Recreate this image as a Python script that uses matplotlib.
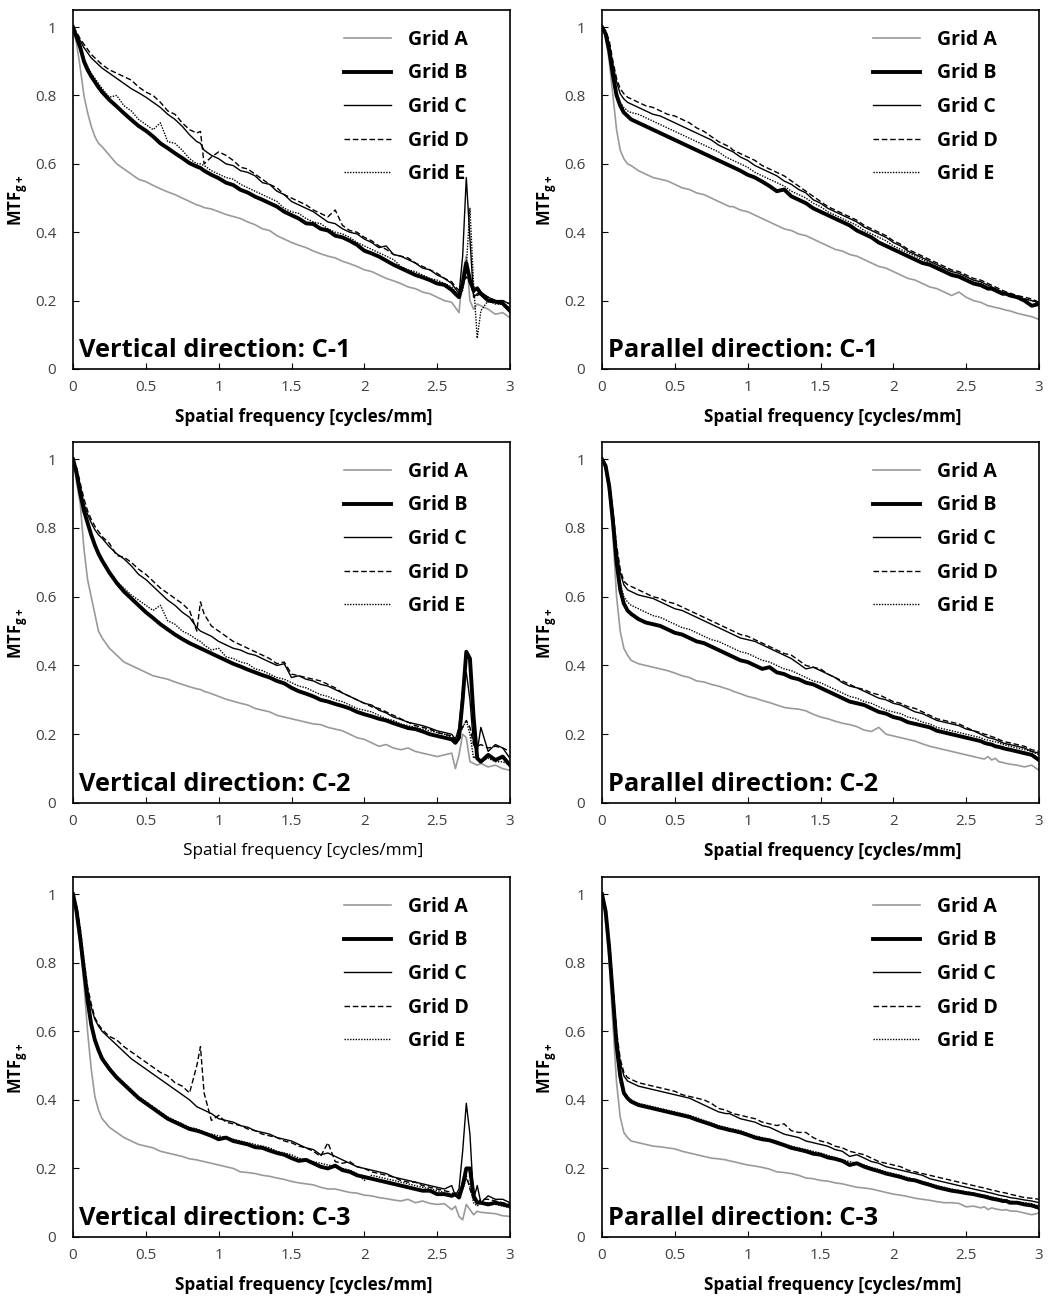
import matplotlib
matplotlib.use("Agg")
import matplotlib.pyplot as plt

plt.rcParams['font.family'] = ['Open Sans', 'DejaVu Sans']
plt.rcParams['mathtext.fontset'] = 'custom'
plt.rcParams['mathtext.rm'] = 'Open Sans'
plt.rcParams['mathtext.bf'] = 'Open Sans:bold'

# spatial frequency samples [cycles/mm]
FREQ = [0.0, 0.025, 0.05, 0.075, 0.1, 0.125, 0.15, 0.175,
        0.2, 0.25, 0.3, 0.35, 0.4, 0.45, 0.5, 0.55, 0.6, 0.65,
        0.7, 0.75, 0.8, 0.85, 0.875, 0.9, 0.95, 1.0,
        1.05, 1.1, 1.15, 1.2, 1.25, 1.3, 1.35, 1.4, 1.45, 1.5,
        1.55, 1.6, 1.65, 1.7, 1.75, 1.8, 1.85, 1.9, 1.95, 2.0,
        2.05, 2.1, 2.15, 2.2, 2.25, 2.3, 2.35, 2.4, 2.45, 2.5,
        2.55, 2.6, 2.625, 2.65, 2.675, 2.7, 2.725, 2.75, 2.775, 2.8,
        2.85, 2.9, 2.95, 3.0]

# ---- Vertical direction, C-1 ----
V1_A = [1.0, 0.95, 0.88, 0.80, 0.75, 0.71, 0.68, 0.66,
        0.65, 0.625, 0.60, 0.585, 0.57, 0.555, 0.548, 0.537, 0.527, 0.518,
        0.51, 0.50, 0.49, 0.48, 0.477, 0.472, 0.468, 0.46,
        0.452, 0.446, 0.44, 0.43, 0.422, 0.41, 0.405, 0.39, 0.38, 0.37,
        0.362, 0.355, 0.345, 0.337, 0.33, 0.325, 0.315, 0.308, 0.30, 0.29,
        0.285, 0.275, 0.265, 0.258, 0.25, 0.24, 0.235, 0.225, 0.22, 0.21,
        0.20, 0.195, 0.18, 0.165, 0.28, 0.33, 0.20, 0.175, 0.19, 0.185,
        0.175, 0.16, 0.165, 0.15]
V1_B = [1.0, 0.97, 0.94, 0.90, 0.875, 0.856, 0.84, 0.824,
        0.81, 0.787, 0.768, 0.748, 0.729, 0.711, 0.697, 0.68, 0.66, 0.646,
        0.631, 0.617, 0.602, 0.592, 0.588, 0.58, 0.568, 0.558,
        0.545, 0.538, 0.524, 0.516, 0.504, 0.495, 0.485, 0.475, 0.46, 0.45,
        0.44, 0.426, 0.424, 0.41, 0.405, 0.39, 0.385, 0.375, 0.363, 0.346,
        0.338, 0.329, 0.317, 0.305, 0.295, 0.285, 0.275, 0.268, 0.26, 0.25,
        0.246, 0.231, 0.22, 0.21, 0.25, 0.31, 0.26, 0.23, 0.236, 0.22,
        0.20, 0.197, 0.192, 0.17]
V1_C = [1.0, 0.98, 0.96, 0.94, 0.925, 0.91, 0.90, 0.89,
        0.88, 0.865, 0.85, 0.835, 0.82, 0.808, 0.795, 0.78, 0.765, 0.745,
        0.73, 0.71, 0.685, 0.665, 0.66, 0.64, 0.625, 0.615,
        0.60, 0.595, 0.58, 0.575, 0.565, 0.545, 0.54, 0.52, 0.51, 0.49,
        0.48, 0.47, 0.46, 0.445, 0.43, 0.425, 0.41, 0.40, 0.395, 0.38,
        0.37, 0.355, 0.36, 0.335, 0.33, 0.32, 0.31, 0.295, 0.29, 0.275,
        0.265, 0.25, 0.235, 0.22, 0.33, 0.56, 0.38, 0.21, 0.22, 0.225,
        0.21, 0.20, 0.20, 0.19]
V1_D = [1.0, 0.985, 0.965, 0.95, 0.935, 0.92, 0.91, 0.90,
        0.89, 0.875, 0.865, 0.855, 0.845, 0.825, 0.81, 0.80, 0.78, 0.755,
        0.745, 0.72, 0.70, 0.69, 0.695, 0.60, 0.62, 0.635,
        0.625, 0.61, 0.59, 0.585, 0.57, 0.555, 0.54, 0.53, 0.51, 0.50,
        0.49, 0.48, 0.465, 0.455, 0.445, 0.465, 0.42, 0.405, 0.40, 0.385,
        0.375, 0.36, 0.35, 0.335, 0.33, 0.325, 0.31, 0.30, 0.29, 0.28,
        0.265, 0.255, 0.24, 0.23, 0.25, 0.27, 0.25, 0.22, 0.215, 0.22,
        0.21, 0.20, 0.20, 0.19]
V1_E = [1.0, 0.975, 0.95, 0.91, 0.885, 0.865, 0.85, 0.835,
        0.82, 0.795, 0.80, 0.77, 0.755, 0.73, 0.715, 0.70, 0.72, 0.665,
        0.66, 0.64, 0.615, 0.60, 0.60, 0.595, 0.58, 0.57,
        0.56, 0.555, 0.54, 0.53, 0.52, 0.51, 0.50, 0.49, 0.47, 0.46,
        0.455, 0.44, 0.43, 0.425, 0.41, 0.40, 0.395, 0.385, 0.37, 0.36,
        0.35, 0.34, 0.33, 0.32, 0.30, 0.29, 0.285, 0.275, 0.265, 0.26,
        0.25, 0.24, 0.225, 0.21, 0.23, 0.30, 0.47, 0.25, 0.09, 0.17,
        0.20, 0.19, 0.19, 0.18]

# ---- Parallel direction, C-1 ----
P1_A = [1.0, 0.97, 0.90, 0.80, 0.70, 0.64, 0.615, 0.60,
        0.595, 0.58, 0.57, 0.56, 0.555, 0.55, 0.54, 0.53, 0.525, 0.515,
        0.51, 0.50, 0.49, 0.48, 0.475, 0.475, 0.465, 0.46,
        0.45, 0.44, 0.43, 0.42, 0.41, 0.405, 0.395, 0.39, 0.38, 0.37,
        0.36, 0.35, 0.345, 0.335, 0.33, 0.32, 0.31, 0.30, 0.295, 0.285,
        0.275, 0.265, 0.26, 0.25, 0.24, 0.235, 0.225, 0.215, 0.225, 0.21,
        0.20, 0.195, 0.19, 0.185, 0.183, 0.18, 0.178, 0.175, 0.172, 0.17,
        0.163, 0.158, 0.153, 0.145]
P1_B = [1.0, 0.98, 0.93, 0.86, 0.80, 0.77, 0.75, 0.74,
        0.73, 0.72, 0.71, 0.70, 0.69, 0.68, 0.67, 0.66, 0.65, 0.64,
        0.63, 0.62, 0.61, 0.60, 0.595, 0.59, 0.58, 0.568,
        0.56, 0.548, 0.535, 0.52, 0.525, 0.505, 0.495, 0.485, 0.47, 0.46,
        0.45, 0.44, 0.43, 0.42, 0.405, 0.395, 0.385, 0.37, 0.36, 0.35,
        0.34, 0.33, 0.32, 0.31, 0.305, 0.295, 0.285, 0.275, 0.27, 0.26,
        0.25, 0.245, 0.24, 0.235, 0.235, 0.23, 0.225, 0.22, 0.22, 0.215,
        0.21, 0.20, 0.185, 0.19]
P1_C = [1.0, 0.985, 0.95, 0.89, 0.84, 0.805, 0.79, 0.78,
        0.775, 0.765, 0.755, 0.745, 0.74, 0.73, 0.72, 0.71, 0.70, 0.69,
        0.68, 0.67, 0.655, 0.645, 0.64, 0.635, 0.62, 0.61,
        0.595, 0.585, 0.575, 0.565, 0.55, 0.54, 0.525, 0.515, 0.495, 0.485,
        0.47, 0.46, 0.45, 0.44, 0.43, 0.415, 0.405, 0.395, 0.385, 0.37,
        0.36, 0.345, 0.335, 0.325, 0.315, 0.305, 0.295, 0.285, 0.28, 0.27,
        0.26, 0.255, 0.25, 0.245, 0.24, 0.235, 0.23, 0.225, 0.22, 0.22,
        0.21, 0.205, 0.20, 0.195]
P1_D = [1.0, 0.99, 0.96, 0.90, 0.85, 0.82, 0.805, 0.795,
        0.79, 0.78, 0.77, 0.765, 0.755, 0.745, 0.74, 0.73, 0.72, 0.705,
        0.695, 0.68, 0.665, 0.655, 0.65, 0.64, 0.63, 0.62,
        0.61, 0.595, 0.585, 0.575, 0.565, 0.55, 0.535, 0.52, 0.505, 0.49,
        0.475, 0.465, 0.455, 0.445, 0.435, 0.42, 0.41, 0.40, 0.39, 0.375,
        0.365, 0.35, 0.34, 0.33, 0.32, 0.31, 0.30, 0.29, 0.285, 0.275,
        0.265, 0.26, 0.255, 0.25, 0.245, 0.24, 0.235, 0.23, 0.225, 0.222,
        0.215, 0.21, 0.205, 0.195]
P1_E = [1.0, 0.98, 0.94, 0.87, 0.81, 0.78, 0.765, 0.755,
        0.75, 0.745, 0.735, 0.725, 0.715, 0.705, 0.695, 0.685, 0.675, 0.665,
        0.655, 0.645, 0.635, 0.62, 0.615, 0.61, 0.60, 0.59,
        0.575, 0.565, 0.555, 0.545, 0.535, 0.52, 0.51, 0.50, 0.485, 0.475,
        0.46, 0.45, 0.44, 0.43, 0.42, 0.405, 0.395, 0.385, 0.375, 0.36,
        0.35, 0.34, 0.33, 0.32, 0.31, 0.30, 0.29, 0.28, 0.275, 0.265,
        0.255, 0.25, 0.245, 0.24, 0.235, 0.23, 0.228, 0.225, 0.22, 0.215,
        0.21, 0.205, 0.20, 0.19]

# ---- Vertical direction, C-2 ----
V2_A = [1.0, 0.93, 0.87, 0.74, 0.65, 0.60, 0.55, 0.50,
        0.48, 0.45, 0.43, 0.41, 0.40, 0.39, 0.38, 0.37, 0.365, 0.36,
        0.352, 0.345, 0.338, 0.332, 0.33, 0.325, 0.318, 0.31,
        0.302, 0.296, 0.29, 0.285, 0.275, 0.27, 0.265, 0.255, 0.25, 0.245,
        0.24, 0.235, 0.23, 0.228, 0.22, 0.215, 0.21, 0.20, 0.19, 0.185,
        0.175, 0.165, 0.17, 0.16, 0.155, 0.16, 0.15, 0.145, 0.14, 0.135,
        0.14, 0.145, 0.10, 0.14, 0.20, 0.19, 0.12, 0.115, 0.11, 0.115,
        0.105, 0.11, 0.10, 0.095]
V2_B = [1.0, 0.96, 0.90, 0.85, 0.815, 0.78, 0.75, 0.725,
        0.705, 0.67, 0.64, 0.615, 0.595, 0.575, 0.555, 0.538, 0.52, 0.505,
        0.49, 0.477, 0.465, 0.455, 0.45, 0.445, 0.435, 0.425,
        0.415, 0.405, 0.397, 0.388, 0.38, 0.372, 0.365, 0.355, 0.348, 0.335,
        0.325, 0.318, 0.31, 0.30, 0.295, 0.288, 0.282, 0.275, 0.265, 0.258,
        0.252, 0.245, 0.24, 0.232, 0.225, 0.218, 0.215, 0.208, 0.20, 0.195,
        0.19, 0.185, 0.175, 0.19, 0.30, 0.44, 0.42, 0.25, 0.13, 0.12,
        0.14, 0.125, 0.135, 0.11]
V2_C = [1.0, 0.97, 0.92, 0.87, 0.84, 0.815, 0.795, 0.78,
        0.77, 0.745, 0.725, 0.71, 0.69, 0.665, 0.65, 0.63, 0.61, 0.59,
        0.575, 0.555, 0.54, 0.51, 0.50, 0.495, 0.485, 0.47,
        0.46, 0.45, 0.445, 0.435, 0.43, 0.42, 0.41, 0.40, 0.405, 0.365,
        0.37, 0.36, 0.355, 0.345, 0.34, 0.33, 0.32, 0.31, 0.30, 0.29,
        0.285, 0.27, 0.262, 0.25, 0.243, 0.235, 0.23, 0.225, 0.218, 0.21,
        0.205, 0.20, 0.185, 0.22, 0.33, 0.38, 0.30, 0.17, 0.15, 0.22,
        0.15, 0.17, 0.16, 0.13]
V2_D = [1.0, 0.975, 0.93, 0.885, 0.85, 0.825, 0.805, 0.79,
        0.775, 0.755, 0.72, 0.715, 0.70, 0.68, 0.665, 0.645, 0.625, 0.61,
        0.595, 0.58, 0.56, 0.50, 0.585, 0.55, 0.515, 0.50,
        0.485, 0.47, 0.46, 0.45, 0.44, 0.43, 0.42, 0.405, 0.41, 0.375,
        0.37, 0.365, 0.36, 0.355, 0.345, 0.335, 0.32, 0.31, 0.30, 0.29,
        0.28, 0.275, 0.265, 0.255, 0.245, 0.235, 0.225, 0.22, 0.215, 0.205,
        0.20, 0.195, 0.18, 0.20, 0.22, 0.24, 0.22, 0.17, 0.165, 0.17,
        0.16, 0.165, 0.16, 0.15]
V2_E = [1.0, 0.965, 0.91, 0.86, 0.82, 0.785, 0.755, 0.73,
        0.71, 0.675, 0.645, 0.625, 0.605, 0.59, 0.575, 0.56, 0.575, 0.53,
        0.52, 0.50, 0.49, 0.475, 0.47, 0.46, 0.445, 0.45,
        0.425, 0.42, 0.41, 0.405, 0.39, 0.385, 0.375, 0.365, 0.36, 0.35,
        0.34, 0.335, 0.325, 0.315, 0.31, 0.30, 0.295, 0.285, 0.275, 0.27,
        0.265, 0.255, 0.245, 0.24, 0.23, 0.225, 0.22, 0.215, 0.21, 0.205,
        0.20, 0.19, 0.19, 0.20, 0.22, 0.24, 0.20, 0.13, 0.14, 0.12,
        0.13, 0.12, 0.12, 0.11]

# ---- Parallel direction, C-2 ----
P2_A = [1.0, 0.97, 0.90, 0.78, 0.60, 0.50, 0.45, 0.43,
        0.415, 0.405, 0.40, 0.395, 0.39, 0.385, 0.378, 0.37, 0.365, 0.355,
        0.352, 0.345, 0.34, 0.333, 0.33, 0.325, 0.318, 0.31,
        0.305, 0.298, 0.292, 0.285, 0.278, 0.275, 0.273, 0.268, 0.258, 0.25,
        0.245, 0.238, 0.232, 0.228, 0.222, 0.212, 0.208, 0.22, 0.20, 0.195,
        0.19, 0.185, 0.18, 0.172, 0.165, 0.16, 0.155, 0.15, 0.145, 0.14,
        0.135, 0.13, 0.128, 0.135, 0.125, 0.13, 0.12, 0.118, 0.115, 0.113,
        0.11, 0.105, 0.11, 0.095]
P2_B = [1.0, 0.98, 0.92, 0.82, 0.70, 0.62, 0.58, 0.56,
        0.55, 0.535, 0.525, 0.52, 0.515, 0.505, 0.495, 0.49, 0.48, 0.47,
        0.465, 0.455, 0.445, 0.435, 0.43, 0.425, 0.415, 0.41,
        0.40, 0.39, 0.395, 0.38, 0.375, 0.365, 0.36, 0.35, 0.345, 0.335,
        0.325, 0.315, 0.305, 0.295, 0.29, 0.285, 0.275, 0.265, 0.26, 0.25,
        0.245, 0.235, 0.23, 0.225, 0.22, 0.21, 0.205, 0.20, 0.195, 0.19,
        0.185, 0.18, 0.175, 0.172, 0.17, 0.165, 0.163, 0.16, 0.157, 0.155,
        0.15, 0.145, 0.14, 0.125]
P2_C = [1.0, 0.985, 0.93, 0.84, 0.74, 0.67, 0.635, 0.62,
        0.615, 0.605, 0.60, 0.595, 0.585, 0.575, 0.565, 0.56, 0.55, 0.54,
        0.53, 0.52, 0.51, 0.50, 0.495, 0.49, 0.48, 0.475,
        0.47, 0.46, 0.45, 0.44, 0.43, 0.42, 0.405, 0.39, 0.395, 0.385,
        0.375, 0.365, 0.35, 0.34, 0.335, 0.325, 0.315, 0.305, 0.30, 0.29,
        0.285, 0.275, 0.265, 0.26, 0.25, 0.24, 0.235, 0.23, 0.225, 0.215,
        0.21, 0.20, 0.195, 0.19, 0.188, 0.185, 0.18, 0.175, 0.172, 0.17,
        0.165, 0.16, 0.15, 0.145]
P2_D = [1.0, 0.985, 0.935, 0.85, 0.75, 0.68, 0.645, 0.635,
        0.63, 0.62, 0.61, 0.60, 0.595, 0.585, 0.58, 0.57, 0.56, 0.55,
        0.54, 0.53, 0.52, 0.51, 0.505, 0.50, 0.49, 0.485,
        0.475, 0.465, 0.455, 0.445, 0.435, 0.43, 0.415, 0.40, 0.395, 0.39,
        0.375, 0.365, 0.355, 0.345, 0.335, 0.33, 0.32, 0.315, 0.305, 0.295,
        0.29, 0.28, 0.275, 0.265, 0.255, 0.245, 0.24, 0.235, 0.23, 0.22,
        0.21, 0.205, 0.20, 0.198, 0.193, 0.19, 0.185, 0.18, 0.177, 0.175,
        0.17, 0.165, 0.155, 0.15]
P2_E = [1.0, 0.98, 0.925, 0.83, 0.72, 0.64, 0.60, 0.585,
        0.575, 0.565, 0.555, 0.545, 0.54, 0.53, 0.52, 0.51, 0.505, 0.495,
        0.485, 0.475, 0.47, 0.46, 0.455, 0.45, 0.44, 0.435,
        0.425, 0.415, 0.41, 0.40, 0.39, 0.385, 0.375, 0.365, 0.355, 0.35,
        0.34, 0.33, 0.32, 0.31, 0.305, 0.295, 0.29, 0.28, 0.27, 0.265,
        0.26, 0.25, 0.245, 0.235, 0.23, 0.22, 0.215, 0.21, 0.205, 0.20,
        0.195, 0.19, 0.185, 0.183, 0.18, 0.178, 0.175, 0.17, 0.168, 0.165,
        0.16, 0.155, 0.15, 0.14]

# ---- Vertical direction, C-3 ----
V3_A = [1.0, 0.92, 0.85, 0.74, 0.60, 0.49, 0.41, 0.37,
        0.345, 0.32, 0.305, 0.29, 0.28, 0.27, 0.265, 0.26, 0.25, 0.245,
        0.24, 0.235, 0.228, 0.225, 0.222, 0.22, 0.215, 0.21,
        0.205, 0.20, 0.19, 0.188, 0.185, 0.18, 0.177, 0.172, 0.168, 0.162,
        0.158, 0.155, 0.152, 0.145, 0.14, 0.14, 0.135, 0.13, 0.128, 0.122,
        0.12, 0.115, 0.112, 0.108, 0.105, 0.11, 0.10, 0.105, 0.098, 0.095,
        0.097, 0.08, 0.09, 0.06, 0.05, 0.095, 0.08, 0.065, 0.075, 0.072,
        0.07, 0.068, 0.062, 0.06]
V3_B = [1.0, 0.95, 0.87, 0.78, 0.69, 0.62, 0.575, 0.545,
        0.52, 0.49, 0.465, 0.445, 0.425, 0.405, 0.39, 0.375, 0.36, 0.345,
        0.335, 0.325, 0.315, 0.31, 0.307, 0.303, 0.295, 0.285,
        0.29, 0.28, 0.275, 0.27, 0.262, 0.26, 0.252, 0.245, 0.24, 0.23,
        0.222, 0.225, 0.215, 0.205, 0.20, 0.208, 0.195, 0.19, 0.18, 0.175,
        0.17, 0.165, 0.16, 0.155, 0.15, 0.145, 0.14, 0.135, 0.135, 0.125,
        0.125, 0.12, 0.125, 0.115, 0.15, 0.20, 0.20, 0.12, 0.10, 0.10,
        0.095, 0.10, 0.095, 0.09]
V3_C = [1.0, 0.96, 0.89, 0.80, 0.72, 0.67, 0.635, 0.615,
        0.60, 0.58, 0.56, 0.54, 0.52, 0.505, 0.49, 0.475, 0.46, 0.445,
        0.43, 0.415, 0.40, 0.38, 0.375, 0.37, 0.36, 0.345,
        0.34, 0.335, 0.325, 0.32, 0.31, 0.305, 0.30, 0.29, 0.285, 0.28,
        0.27, 0.26, 0.255, 0.24, 0.245, 0.235, 0.225, 0.215, 0.205, 0.20,
        0.195, 0.19, 0.185, 0.175, 0.17, 0.165, 0.16, 0.155, 0.15, 0.145,
        0.14, 0.15, 0.12, 0.14, 0.25, 0.39, 0.30, 0.11, 0.15, 0.10,
        0.12, 0.11, 0.11, 0.10]
V3_D = [1.0, 0.965, 0.90, 0.81, 0.73, 0.68, 0.64, 0.62,
        0.605, 0.585, 0.575, 0.555, 0.54, 0.525, 0.51, 0.495, 0.48, 0.47,
        0.45, 0.44, 0.42, 0.50, 0.555, 0.42, 0.34, 0.355,
        0.335, 0.33, 0.325, 0.315, 0.31, 0.30, 0.295, 0.29, 0.28, 0.275,
        0.265, 0.26, 0.25, 0.235, 0.275, 0.22, 0.215, 0.22, 0.205, 0.20,
        0.19, 0.185, 0.18, 0.175, 0.165, 0.16, 0.16, 0.15, 0.145, 0.14,
        0.135, 0.13, 0.12, 0.13, 0.14, 0.18, 0.14, 0.11, 0.10, 0.11,
        0.11, 0.105, 0.10, 0.095]
V3_E = [1.0, 0.95, 0.87, 0.78, 0.70, 0.63, 0.58, 0.55,
        0.52, 0.495, 0.47, 0.45, 0.43, 0.41, 0.395, 0.38, 0.365, 0.35,
        0.34, 0.33, 0.32, 0.315, 0.31, 0.305, 0.30, 0.295,
        0.29, 0.285, 0.28, 0.275, 0.27, 0.265, 0.26, 0.25, 0.245, 0.24,
        0.23, 0.225, 0.22, 0.215, 0.21, 0.205, 0.20, 0.195, 0.185, 0.165,
        0.18, 0.175, 0.17, 0.165, 0.16, 0.155, 0.15, 0.145, 0.14, 0.135,
        0.13, 0.125, 0.12, 0.125, 0.14, 0.17, 0.15, 0.10, 0.09, 0.10,
        0.10, 0.095, 0.09, 0.085]

# ---- Parallel direction, C-3 ----
P3_A = [1.0, 0.92, 0.80, 0.62, 0.45, 0.35, 0.305, 0.29,
        0.28, 0.275, 0.27, 0.265, 0.263, 0.26, 0.257, 0.25, 0.245, 0.24,
        0.235, 0.23, 0.228, 0.225, 0.222, 0.22, 0.215, 0.21,
        0.207, 0.203, 0.198, 0.19, 0.188, 0.185, 0.18, 0.172, 0.17, 0.165,
        0.163, 0.158, 0.155, 0.15, 0.145, 0.143, 0.14, 0.135, 0.13, 0.125,
        0.122, 0.118, 0.113, 0.11, 0.107, 0.103, 0.10, 0.10, 0.098, 0.088,
        0.09, 0.085, 0.088, 0.08, 0.085, 0.082, 0.08, 0.078, 0.08, 0.076,
        0.075, 0.07, 0.065, 0.07]
P3_B = [1.0, 0.95, 0.84, 0.70, 0.56, 0.47, 0.42, 0.405,
        0.395, 0.385, 0.38, 0.375, 0.37, 0.365, 0.36, 0.355, 0.35, 0.342,
        0.335, 0.328, 0.32, 0.315, 0.312, 0.31, 0.305, 0.298,
        0.29, 0.285, 0.282, 0.275, 0.268, 0.26, 0.255, 0.25, 0.243, 0.24,
        0.232, 0.228, 0.222, 0.21, 0.215, 0.205, 0.198, 0.192, 0.185, 0.18,
        0.175, 0.168, 0.165, 0.158, 0.152, 0.145, 0.14, 0.135, 0.132, 0.128,
        0.125, 0.12, 0.118, 0.115, 0.112, 0.11, 0.108, 0.105, 0.105, 0.10,
        0.10, 0.095, 0.092, 0.085]
P3_C = [1.0, 0.955, 0.86, 0.72, 0.59, 0.51, 0.47, 0.455,
        0.45, 0.44, 0.435, 0.43, 0.425, 0.42, 0.415, 0.41, 0.405, 0.395,
        0.385, 0.375, 0.365, 0.36, 0.36, 0.355, 0.345, 0.34,
        0.335, 0.325, 0.32, 0.31, 0.30, 0.295, 0.29, 0.28, 0.275, 0.27,
        0.265, 0.255, 0.25, 0.235, 0.24, 0.23, 0.22, 0.215, 0.205, 0.20,
        0.195, 0.19, 0.185, 0.18, 0.17, 0.165, 0.16, 0.155, 0.15, 0.145,
        0.14, 0.135, 0.133, 0.13, 0.128, 0.125, 0.122, 0.12, 0.118, 0.115,
        0.112, 0.108, 0.105, 0.10]
P3_D = [1.0, 0.96, 0.87, 0.73, 0.60, 0.52, 0.48, 0.465,
        0.46, 0.45, 0.445, 0.44, 0.435, 0.43, 0.425, 0.415, 0.41, 0.405,
        0.40, 0.39, 0.375, 0.37, 0.365, 0.36, 0.355, 0.35,
        0.345, 0.335, 0.33, 0.325, 0.33, 0.31, 0.305, 0.305, 0.29, 0.28,
        0.275, 0.265, 0.26, 0.25, 0.245, 0.24, 0.23, 0.22, 0.215, 0.21,
        0.205, 0.195, 0.19, 0.185, 0.18, 0.175, 0.17, 0.165, 0.16, 0.155,
        0.15, 0.145, 0.143, 0.14, 0.137, 0.135, 0.132, 0.13, 0.128, 0.125,
        0.12, 0.115, 0.113, 0.11]
P3_E = [1.0, 0.95, 0.83, 0.68, 0.53, 0.45, 0.415, 0.405,
        0.40, 0.39, 0.385, 0.38, 0.375, 0.37, 0.365, 0.36, 0.355, 0.348,
        0.34, 0.333, 0.325, 0.32, 0.317, 0.315, 0.31, 0.302,
        0.295, 0.29, 0.285, 0.28, 0.272, 0.265, 0.26, 0.255, 0.25, 0.245,
        0.238, 0.232, 0.225, 0.22, 0.215, 0.21, 0.203, 0.197, 0.19, 0.185,
        0.18, 0.173, 0.168, 0.162, 0.156, 0.15, 0.145, 0.14, 0.136, 0.132,
        0.128, 0.124, 0.122, 0.12, 0.117, 0.115, 0.112, 0.11, 0.108, 0.105,
        0.102, 0.10, 0.097, 0.09]

GRID_LABELS = ['Grid A', 'Grid B', 'Grid C', 'Grid D', 'Grid E']
PANEL_TITLES = ['Vertical direction: C-1', 'Parallel direction: C-1',
                'Vertical direction: C-2', 'Parallel direction: C-2',
                'Vertical direction: C-3', 'Parallel direction: C-3']
PANEL_DATA = [
    [V1_A, V1_B, V1_C, V1_D, V1_E],
    [P1_A, P1_B, P1_C, P1_D, P1_E],
    [V2_A, V2_B, V2_C, V2_D, V2_E],
    [P2_A, P2_B, P2_C, P2_D, P2_E],
    [V3_A, V3_B, V3_C, V3_D, V3_E],
    [P3_A, P3_B, P3_C, P3_D, P3_E],
]

LINE_STYLES = [
    dict(color='#9a9a9a', lw=1.2, ls='-'),
    dict(color='black', lw=2.8, ls='-'),
    dict(color='black', lw=1.0, ls='-'),
    dict(color='black', lw=1.0, ls=(0, (4, 2))),
    dict(color='black', lw=1.0, ls=(0, (1, 1))),
]

W, H = 1048, 1302
fig = plt.figure(figsize=(W / 100, H / 100), dpi=100)

# axes boxes in pixels: left edge per column, (top, bottom) per row
col_left = [73, 602]
row_tb = [(10, 369), (442, 803), (877, 1237)]
ax_w = 437

for i, (title, series) in enumerate(zip(PANEL_TITLES, PANEL_DATA)):
    r, c = divmod(i, 2)
    top, bot = row_tb[r]
    ax_h = bot - top
    ax = fig.add_axes([col_left[c] / W, 1 - bot / H, ax_w / W, ax_h / H])

    for y, lab, st in zip(series, GRID_LABELS, LINE_STYLES):
        if len(y) != len(FREQ):
            raise ValueError(f'{title} {lab}: {len(y)} values')
        ax.plot(FREQ, y, label=lab, solid_joinstyle='round', **st)

    ax.set_xlim(0, 3)
    ax.set_ylim(0, 1.05)
    ax.set_xticks([0, 0.5, 1, 1.5, 2, 2.5, 3])
    ax.set_xticklabels(['0', '0.5', '1', '1.5', '2', '2.5', '3'])
    ax.set_yticks([0, 0.2, 0.4, 0.6, 0.8, 1.0])
    ax.set_yticklabels(['0', '0.2', '0.4', '0.6', '0.8', '1'])
    ax.tick_params(direction='in', length=4, width=0.8, labelsize=11,
                   labelcolor='#404040')
    ax.tick_params(axis='y', pad=12)
    ax.tick_params(axis='x', pad=8)
    for sp in ax.spines.values():
        sp.set_linewidth(1.2)
        sp.set_color('black')

    # the middle-left panel has a plain (non-bold) axis title
    xw = 'normal' if i == 2 else 'bold'
    ax.set_xlabel('Spatial frequency [cycles/mm]', fontsize=12.3,
                  fontweight=xw, va='center')
    ax.xaxis.set_label_coords(0.527, -48 / ax_h)
    ax.set_ylabel(r'MTF$_{\mathbf{g+}}$', fontsize=12, fontweight='bold',
                  va='center')
    ax.yaxis.set_label_coords(-55 / ax_w, 0.47)

    ax.text(6 / ax_w, 12 / ax_h, title, transform=ax.transAxes,
            fontsize=18.3, fontweight='bold', ha='left', va='baseline')

    ax.legend(loc='upper right', bbox_to_anchor=(0.905, 0.945), frameon=False,
              prop={'weight': 'bold', 'size': 14}, handlelength=2.4,
              handletextpad=0.85, labelspacing=0.7, borderpad=0,
              borderaxespad=0)

fig.savefig('out.png', dpi=100)
